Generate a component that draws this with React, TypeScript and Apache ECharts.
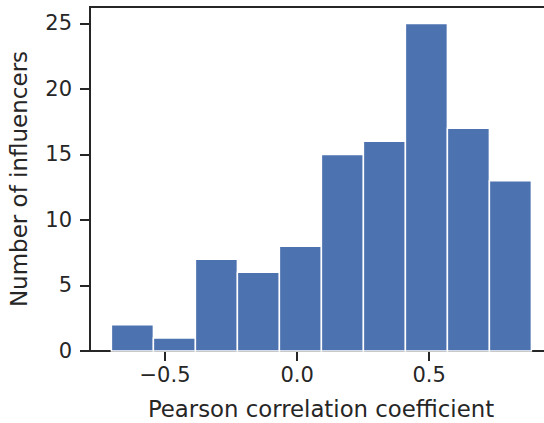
import React, { useEffect, useRef } from "react";
import * as echarts from "echarts";

// Histogram bin edges (correlation coefficient) and counts per bin
const binEdges = [-0.703, -0.544, -0.385, -0.226, -0.067, 0.092, 0.251, 0.41, 0.569, 0.728, 0.887];
const counts = [2, 1, 7, 6, 8, 15, 16, 25, 17, 13];
const xTicks = [-0.5, 0, 0.5];
const yTicks = [0, 5, 10, 15, 20, 25];

const INK = "#262626";
const BAR = "#4C72B0";
const FONT = "DejaVu Sans";

export default function App() {
  const ref = useRef<HTMLDivElement>(null);

  useEffect(() => {
    if (!ref.current) return;
    const chart = echarts.init(ref.current, undefined, { renderer: "svg" });

    const data = counts.map((c, i) => [binEdges[i], binEdges[i + 1], c]);

    chart.setOption({
      animation: false,
      backgroundColor: "#ffffff",
      grid: {
        left: 90,
        top: 7,
        bottom: 72,
        right: 0,
        show: true,
        borderColor: INK,
        borderWidth: 2,
        containLabel: false,
        outerBoundsMode: "none",
      },
      xAxis: {
        type: "value",
        min: -0.784,
        max: 0.965,
        name: "Pearson correlation coefficient",
        nameLocation: "middle",
        nameGap: 48,
        nameTextStyle: { fontFamily: FONT, fontSize: 22.8, lineHeight: 20, color: INK },
        axisLine: { show: true, onZero: false, lineStyle: { color: INK, width: 2 } },
        axisTick: {
          show: true,
          length: 10,
          customValues: xTicks,
          lineStyle: { color: INK, width: 2 },
        },
        axisLabel: {
          customValues: xTicks,
          margin: 13,
          fontFamily: FONT,
          fontSize: 21,
          color: INK,
          formatter: (v: number) => v.toFixed(1).replace("-", "\u2212"),
        },
        splitLine: { show: false },
      },
      yAxis: {
        type: "value",
        min: 0,
        max: 26.25,
        name: "Number of influencers",
        nameLocation: "middle",
        nameGap: 60,
        nameTextStyle: { fontFamily: FONT, fontSize: 23, color: INK },
        axisLine: { show: true, onZero: false, lineStyle: { color: INK, width: 2 } },
        axisTick: {
          show: true,
          length: 10,
          customValues: yTicks,
          lineStyle: { color: INK, width: 2 },
        },
        axisLabel: {
          customValues: yTicks,
          margin: 18,
          fontFamily: FONT,
          fontSize: 21,
          color: INK,
        },
        splitLine: { show: false },
      },
      series: [
        {
          type: "custom",
          data,
          encode: { x: [0, 1], y: 2 },
          renderItem: (_params: any, api: any) => {
            const x0 = api.value(0);
            const x1 = api.value(1);
            const y = api.value(2);
            const p0 = api.coord([x0, y]);
            const p1 = api.coord([x1, 0]);
            return {
              type: "rect",
              shape: { x: p0[0], y: p0[1], width: p1[0] - p0[0], height: p1[1] - p0[1] },
              style: { fill: BAR, stroke: "#ffffff", lineWidth: 1.5 },
            };
          },
        },
      ],
    });

    return () => chart.dispose();
  }, []);

  // The plot box runs a few pixels past the visible frame on the right.
  return (
    <div
      style={{
        position: "fixed",
        left: 0,
        top: 0,
        width: 544,
        height: 423,
        overflow: "hidden",
        background: "#ffffff",
      }}
    >
      <div ref={ref} style={{ width: 552, height: 423 }} />
    </div>
  );
}
